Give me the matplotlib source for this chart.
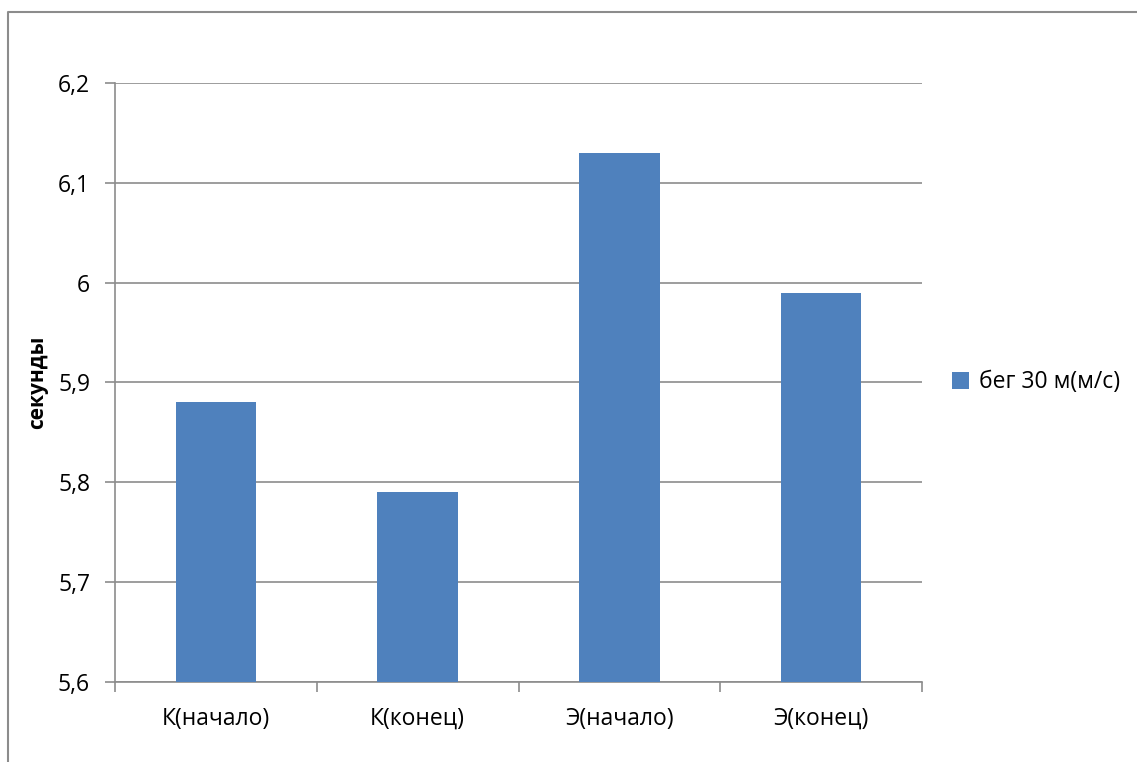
import numpy as np
import matplotlib.pyplot as plt
from matplotlib.lines import Line2D
from matplotlib.ticker import FuncFormatter, MultipleLocator

categories = ['К(начало)', 'К(конец)', 'Э(начало)', 'Э(конец)']
values = [5.88, 5.79, 6.13, 5.99]
series_name = 'бег 30 м(м/с)'

plt.rcParams['font.family'] = ['Open Sans', 'DejaVu Sans']

W, H = 1137, 762
fig = plt.figure(figsize=(W / 100, H / 100), dpi=100)
ax = fig.add_axes([115 / W, 1 - 682 / H, (922 - 115) / W, (682 - 83) / H])

# outer chart border (only left and top edges are visible)
bx, by = 7.5 / W, 1 - 11.5 / H
fig.lines.append(Line2D([bx, bx, 1.0], [0.0, by, by], transform=fig.transFigure,
                        color='#8c8c8c', linewidth=1.5))

x = np.arange(len(categories))
ax.bar(x, values, width=0.4, color='#4F81BD', label=series_name, zorder=3)

ax.set_xlim(-0.5, len(categories) - 0.5)
ax.set_ylim(5.6, 6.2)
ax.yaxis.set_major_locator(MultipleLocator(0.1))
ax.yaxis.set_major_formatter(FuncFormatter(lambda v, p: ('%g' % round(v, 1)).replace('.', ',')))
ax.grid(axis='y', color='#8c8c8c', linewidth=1.2, zorder=0)

ax.set_xticks(np.arange(-0.5, len(categories)), minor=False)
ax.set_xticklabels([])
ax.set_xticks(x, minor=True)
ax.set_xticklabels(categories, minor=True)
ax.tick_params(axis='x', which='minor', length=0, pad=18, labelsize=16.5)
ax.tick_params(axis='x', which='major', length=7, width=1.2, color='#8c8c8c')
ax.tick_params(axis='y', length=7, width=1.2, color='#8c8c8c', labelsize=16.5, pad=11)

for s in ['top', 'right']:
    ax.spines[s].set_visible(False)
for s in ['left', 'bottom']:
    ax.spines[s].set_color('#8c8c8c')
    ax.spines[s].set_linewidth(1.2)

ax.set_ylabel('секунды', fontsize=15, fontweight='bold', labelpad=7)

ax.legend(loc='center left', bbox_to_anchor=(1.012, 0.5), frameon=False,
          fontsize=16.5, handlelength=0.75, handleheight=0.75, handletextpad=0.4)

fig.savefig('out.png', dpi=100)
